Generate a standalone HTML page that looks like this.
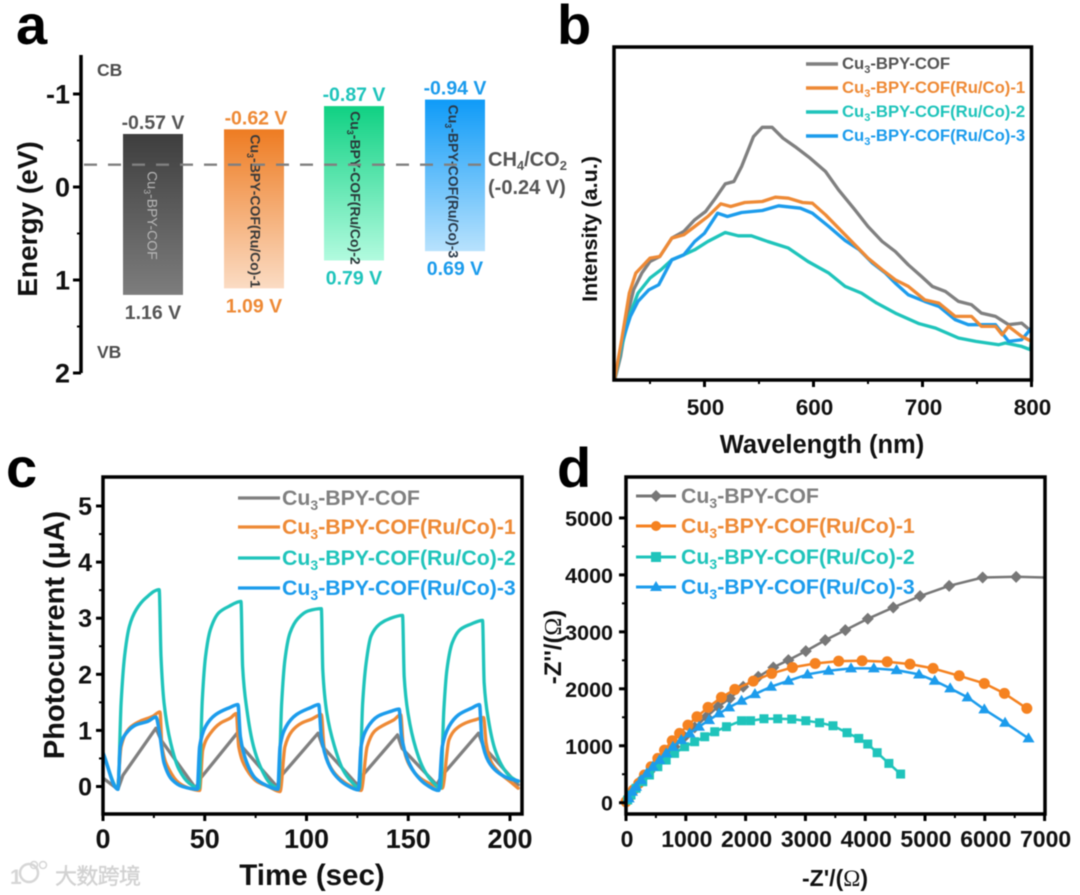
<!DOCTYPE html>
<html lang="en">
<head>
<meta charset="utf-8">
<title>Cu3-BPY-COF characterization figure</title>
<style>
html,body{margin:0;padding:0;background:#fff;}
#fig{display:block;width:1080px;height:895px;filter:blur(0.45px);}
text{font-family:"Liberation Sans","Noto Sans CJK SC",sans-serif;font-weight:bold;}
</style>
</head>
<body>
<svg id="fig" xmlns="http://www.w3.org/2000/svg" width="1080" height="895" viewBox="0 0 1080 895">
<defs>
<linearGradient id="g0" x1="0" y1="0" x2="0" y2="1"><stop offset="0" stop-color="#3e3e3e"/><stop offset="1" stop-color="#7d7d7d"/></linearGradient>
<linearGradient id="g1" x1="0" y1="0" x2="0" y2="1"><stop offset="0" stop-color="#ee7c22"/><stop offset="1" stop-color="#fbdcc4"/></linearGradient>
<linearGradient id="g2" x1="0" y1="0" x2="0" y2="1"><stop offset="0" stop-color="#10d183"/><stop offset="1" stop-color="#b2fbdf"/></linearGradient>
<linearGradient id="g3" x1="0" y1="0" x2="0" y2="1"><stop offset="0" stop-color="#0f9bf8"/><stop offset="1" stop-color="#b8e2fd"/></linearGradient>
</defs>
<rect width="1080" height="895" fill="#fff"/>

<text x="16" y="44" font-size="56" fill="#000">a</text>
<text x="557" y="44" font-size="56" fill="#000">b</text>
<text x="6" y="487" font-size="56" fill="#000">c</text>
<text x="557" y="487" font-size="56" fill="#000">d</text>

<g id="panelA">
  <text transform="translate(37,219) rotate(-90)" text-anchor="middle" font-size="28" fill="#111">Energy (eV)</text>
  <text x="97" y="76" font-size="17.5" fill="#4d4d4d">CB</text>
  <text x="97" y="358" font-size="17.5" fill="#4d4d4d">VB</text>
  <text x="488" y="166" font-size="20" fill="#555">CH<tspan dy="4" font-size="13">4</tspan><tspan dy="-4">/CO</tspan><tspan dy="4" font-size="13">2</tspan></text>
  <text x="488" y="194" font-size="20" fill="#555">(-0.24 V)</text>
</g>

<g id="panelB">
  <text transform="translate(597,229) rotate(-90)" text-anchor="middle" font-size="21.5" fill="#111">Intensity (a.u.)</text>
  <text x="822" y="453" text-anchor="middle" font-size="25.5" fill="#111">Wavelength (nm)</text>
  <g font-size="16.7">
    <line x1="806" y1="64" x2="838" y2="64" stroke="#808080" stroke-width="3.5"/>
    <text x="842" y="69" fill="#555">Cu<tspan dy="4" font-size="11">3</tspan><tspan dy="-4">-BPY-COF</tspan></text>
    <line x1="806" y1="88" x2="838" y2="88" stroke="#ee8a36" stroke-width="3.5"/>
    <text x="842" y="93" fill="#ee8a36">Cu<tspan dy="4" font-size="11">3</tspan><tspan dy="-4">-BPY-COF(Ru/Co)-1</tspan></text>
    <line x1="806" y1="112" x2="838" y2="112" stroke="#1fc4bb" stroke-width="3.5"/>
    <text x="842" y="117" fill="#1fc4bb">Cu<tspan dy="4" font-size="11">3</tspan><tspan dy="-4">-BPY-COF(Ru/Co)-2</tspan></text>
    <line x1="806" y1="136" x2="838" y2="136" stroke="#1c9cec" stroke-width="3.5"/>
    <text x="842" y="141" fill="#1c9cec">Cu<tspan dy="4" font-size="11">3</tspan><tspan dy="-4">-BPY-COF(Ru/Co)-3</tspan></text>
  </g>
</g>

<g id="panelC">
  <text transform="translate(64,635) rotate(-90)" text-anchor="middle" font-size="29" fill="#111">Photocurrent (μA)</text>
  <text x="312" y="885" text-anchor="middle" font-size="29.5" fill="#111">Time (sec)</text>
</g>

<g id="panelD">
  <text transform="translate(561,647) rotate(-90)" text-anchor="middle" font-size="24" fill="#111">-Z''/(<tspan style="font-family:'Liberation Serif',serif;font-weight:normal">Ω</tspan>)</text>
  <text x="835" y="886" text-anchor="middle" font-size="23" fill="#111">-Z'/(<tspan style="font-family:'Liberation Serif',serif;font-weight:normal">Ω</tspan>)</text>
</g>

<g>
  <text x="10" y="884" font-size="21" fill="#d6d6d6">1</text>
  <circle cx="29" cy="873" r="9" fill="none" stroke="#d6d6d6" stroke-width="2.5"/>
  <circle cx="34" cy="865" r="3.5" fill="none" stroke="#d6d6d6" stroke-width="1.5"/>
  <circle cx="43" cy="865" r="3.5" fill="none" stroke="#d6d6d6" stroke-width="1.5"/>
  <text x="55" y="884" font-size="22" fill="#d2d2d2" stroke="#d2d2d2" stroke-width="0.4" textLength="86" style="font-weight:normal">大数跨境</text>
</g>
</svg>

<script>
// ===== Panel a data =====
var bandNames = ['Cu3-BPY-COF','Cu3-BPY-COF(Ru/Co)-1','Cu3-BPY-COF(Ru/Co)-2','Cu3-BPY-COF(Ru/Co)-3'];
var bandCB = [-0.57,-0.62,-0.87,-0.94];
var bandVB = [1.16,1.09,0.79,0.69];
var bandRedox = -0.24;
var bandTicks = [-1,0,1,2];

// ===== Panel b data =====
var plTicks = [500,600,700,800];
var wlGray = [417,423,429,435,442.5,450,459,470,481,491,501,510,519,527,534,545,553,562,572,583,597,611,623,638,650,663,675,687,699,709,721,733,745,754,767,779,791,800];
var plGray = [0,8,20,28,33,36.5,38,43.5,45.5,49,51.5,55.5,59.8,60.5,65,74,76.8,76.8,73.5,71,67.5,63.5,58,52,47,42.5,39.5,35.5,32,29,27.5,24.5,23.5,21,20,17.5,18,15.5];
var wlOrange = [417,424,431,437,450,459,470,481,491,503,515,524,537,553,565,577,590,599,611,623,638,650,663,675,687,702,715,730,745,754,767,773,779,791,800];
var plOrange = [0,13,27,33,37.5,38,43.5,44.5,47,50,53.8,53,54.2,54.5,55.8,55.5,54.2,54,50.5,46.5,41.5,37.5,34,31,29,25,24,20,20,17,17,14.5,17,14,12.5];
var wlTeal = [417,424,432,439,450,460,470,481,491,503,519,531,543,558,577,595,614,629,644,658,675,697,712,733,749,770,776,791,799,800];
var plTeal = [0,11,21,27,31.5,34,37,38.5,40,42.5,45.2,44.2,44.2,42.5,40.5,36.5,33,29,27,24,21,17.8,16.5,13.5,12.5,11.5,12,11,10,12.5];
var wlBlue = [417,424,432,439,449,458,470,481,491,500,512,521,534,553,568,588,599,614,629,642,654,666,675,687,702,715,730,742,767,779,791,800];
var plBlue = [0,12,20,24.5,28,29.5,37,38.5,42.5,45,51,50,51.2,51.8,53.2,52.5,51,47,42.8,40,36,33,30,26.5,24.5,23,19,17.5,17.5,12.5,13,16.5];

// ===== Panel c data =====
var timeTicks = [0,50,100,150,200];
var currentTicks = [0,1,2,3,4,5];
var tGray = [0,7.3,9.8,26,28.5,45.5,48,65.9,68.3,85.4,87.8,105.7,108,125,127.6,144.7,147,164,166.7,184.5,187,204];
var iGray = [0.15,-0.05,0.2,1.04,0.83,-0.03,0.15,0.95,0.71,0,0.2,0.95,0.71,0.03,0.2,0.92,0.68,0.03,0.2,0.95,0.71,0.03];
var tOrange = [7.3,8.9,13,18,24.4,28,29,32.5,37.4,42.3,47.5,49,52.8,57.7,62.6,65.5,66.7,70.7,75.6,81.3,87,89.4,92.7,97.6,102.4,107.3,108.6,112,117,122,126.8,129.8,133.3,138.2,143,146.3,147.6,152,157,164,166.7,170,173,178,183,187,188.3,191,195,200,204];
var iOrange = [-0.03,0.71,1.04,1.16,1.25,1.33,0.71,0.3,0.06,-0.03,-0.07,0.65,0.95,1.13,1.22,1.3,0.71,0.3,0.09,0,-0.09,0.71,0.98,1.13,1.2,1.28,0.71,0.33,0.12,0,-0.07,0.71,0.98,1.1,1.19,1.28,0.71,0.3,0.12,0,-0.03,0.83,1.01,1.13,1.19,1.23,0.77,0.42,0.24,0.09,-0.03];
var tTeal = [0,7.3,8.9,10.6,13,16.3,21,27.6,28.5,30,33.3,37.4,42.3,47.2,48.8,50.4,52.8,57,61.8,67.8,68.6,70.7,74,78,82,86.2,87.8,89.4,91.9,95.9,100.8,107.3,108,110,113.8,117.9,122,126,127.6,129.3,131.7,135.8,140.7,147.2,148,150,153.7,157.7,161.8,165.9,167.5,169,171.6,175.6,180.5,186.5,187.3,189.4,192.7,196.7,200,204];
var iTeal = [0.6,-0.03,1.49,2.32,2.86,3.15,3.36,3.51,2.32,1.49,0.77,0.3,0.06,-0.03,1.55,2.32,2.8,3.1,3.21,3.3,2.14,1.37,0.71,0.3,0.06,-0.03,1.49,2.26,2.74,3.0,3.13,3.17,2.08,1.31,0.71,0.3,0.09,-0.03,1.49,2.2,2.68,2.89,2.99,3.05,1.96,1.28,0.68,0.3,0.09,-0.03,1.37,2.08,2.56,2.8,2.89,2.96,1.85,1.19,0.65,0.33,0.18,0.09];
var tBlue = [0,7.3,8.5,11.4,16.3,22,26,27.6,30,34,39,46.3,47.5,50.4,55.3,61.8,66.3,67.5,70.7,74.8,79.7,85.9,87,90,95,101.6,106,107.3,110.6,114.6,119.5,125.5,126.8,129.8,135,141.5,145.5,146.7,150,154.5,159,165,166.7,170,174.8,181.3,185,186.2,189.4,193.5,199,204];
var iBlue = [0.6,-0.05,0.71,0.95,1.1,1.16,1.24,1.0,0.42,0.12,0,-0.05,0.71,1.07,1.28,1.4,1.46,0.89,0.42,0.15,0.03,-0.05,0.71,1.07,1.28,1.4,1.46,0.89,0.42,0.18,0.03,-0.06,0.71,1.04,1.25,1.34,1.38,0.89,0.45,0.18,0.03,-0.07,0.71,1.07,1.28,1.4,1.46,0.83,0.45,0.27,0.15,0.1];

// ===== Panel d data =====
var zRealTicks = [0,1000,2000,3000,4000,5000,6000,7000];
var zImagTicks = [0,1000,2000,3000,4000,5000];
var zrGray = [6524,5964,5404,4917,4469,4043,3668,3332,3007,2716,2464,2212,1960,1736,1540,1344,1148,980,812,672,532,392,280,168,84,28];
var ziGray = [3966,3955,3808,3627,3428,3229,3030,2855,2662,2504,2375,2211,2036,1831,1685,1509,1322,1158,983,830,690,544,427,281,164,76];
var zrGrayTail = [7000];
var ziGrayTail = [3955];
var zrOrange = [6703,6328,5992,5572,5135,4749,4368,3948,3556,3164,2783,2436,2128,1820,1596,1372,1187,1036,896,773,644,532,420,308,213,123,56,0];
var ziOrange = [1656,1919,2094,2229,2358,2434,2475,2492,2486,2445,2375,2270,2135,1989,1849,1673,1509,1363,1217,1088,924,778,632,486,339,222,105,18];
var zrTeal = [4592,4396,4200,4043,3892,3696,3461,3237,3007,2772,2537,2307,2083,1932,1680,1484,1316,1148,980,812,672,532,392,280,168,84,28];
var ziTeal = [503,690,878,1030,1129,1229,1351,1404,1439,1468,1474,1474,1439,1439,1334,1246,1158,1071,983,866,749,632,486,369,252,135,47];
var zrBlue = [6731,6339,5992,5712,5421,5163,4900,4525,4144,3763,3388,3035,2716,2425,2156,1932,1725,1557,1389,1221,1064,924,784,672,560,448,347,252,168,101,45];
var ziBlue = [1129,1404,1638,1849,2007,2141,2252,2328,2358,2358,2317,2252,2141,2036,1907,1790,1673,1568,1451,1334,1217,1100,983,866,749,632,515,398,281,193,76];

var GRAY='#808080', ORANGE='#ee8a36', TEAL='#1fc4bb', BLUE='#1c9cec';
var NS='http://www.w3.org/2000/svg';
function mk(tag,parent,attrs,txt){
  var e=document.createElementNS(NS,tag);
  for(var k in attrs){e.setAttribute(k,attrs[k]);}
  if(txt!==undefined){e.textContent=txt;}
  parent.appendChild(e);
  return e;
}
function pts(xs,ys,fx,fy){
  return xs.map(function(x,i){return fx(x).toFixed(1)+','+fy(ys[i]).toFixed(1);}).join(' ');
}
function seriesLine(parent,xs,ys,fx,fy,color,w,name){
  var p=mk('polyline',parent,{points:pts(xs,ys,fx,fy),fill:'none',stroke:color,'stroke-width':w,'stroke-linejoin':'round','stroke-linecap':'round'});
  
  
  return p;
}
// Monotone cubic path through the data points (no overshoot at peaks and troughs).
function seriesCurve(parent,xs,ys,fx,fy,color,w,name){
  var px=xs.map(fx), py=ys.map(fy), n=px.length, sl=[], tn=[], i;
  for(i=0;i<n-1;i++){sl[i]=(py[i+1]-py[i])/(px[i+1]-px[i]);}
  tn[0]=sl[0]; tn[n-1]=sl[n-2];
  for(i=1;i<n-1;i++){
    if(sl[i-1]*sl[i]<=0){tn[i]=0;}
    else{var h0=px[i]-px[i-1],h1=px[i+1]-px[i];tn[i]=3*(h0+h1)/((2*h1+h0)/sl[i-1]+(h1+2*h0)/sl[i]);}
  }
  var d='M'+px[0].toFixed(1)+' '+py[0].toFixed(1);
  for(i=0;i<n-1;i++){
    var h=(px[i+1]-px[i])/3;
    d+='C'+(px[i]+h).toFixed(2)+' '+(py[i]+h*tn[i]).toFixed(2)+' '+(px[i+1]-h).toFixed(2)+' '+(py[i+1]-h*tn[i+1]).toFixed(2)+' '+px[i+1].toFixed(2)+' '+py[i+1].toFixed(2);
  }
  var p=mk('path',parent,{d:d,fill:'none',stroke:color,'stroke-width':w,'stroke-linejoin':'round','stroke-linecap':'round'});
  
  
  return p;
}
function tick(parent,x1,y1,x2,y2,w,name){
  var t=mk('line',parent,{x1:x1,y1:y1,x2:x2,y2:y2,stroke:'#000','stroke-width':w});
  
  
}
function label(parent,x,y,str,size,anchor,name,fill){
  var t=mk('text',parent,{x:x,y:y,'font-size':size,'text-anchor':anchor,fill:fill||'#111'},str);
  
  
  return t;
}
function frame(parent,x,y,w,h,name){
  var r=mk('rect',parent,{x:x,y:y,width:w,height:h,fill:'none',stroke:'#000','stroke-width':3.5});
  
  
}

// ----- Panel a -----
(function(){
  var g=document.getElementById('panelA');
  var yA=function(v){return 187+93*v;};
  var barLeft=[123,224,324,425], barW=60;
  var colors=['#555555','#ee8a36','#1fc4bb','#1c9cec'];
  var vbColors=['#555555','#ee8a36','#1fc4bb','#1c9cec'];
  var textColors=['#b5b5b5','#3a3a3a','#2a3a3a','#2a3a4a'];
  var textWeights=['normal','bold','bold','bold'];
  var axis=mk('line',g,{x1:81,y1:55,x2:81,y2:373,stroke:'#000','stroke-width':3.5});
  
  
  bandTicks.forEach(function(v){
    tick(g,73,yA(v),81,yA(v),3,'energy-tick');
    label(g,70,yA(v)+9.5,String(v),27,'end','energy-tick-label','#111');
  });
  [-0.5,0.5,1.5].forEach(function(v){tick(g,77,yA(v),81,yA(v),2,'energy-minor-tick');});
  bandCB.forEach(function(cb,i){
    var vb=bandVB[i];
    var r=mk('rect',g,{x:barLeft[i],y:yA(cb),width:barW,height:yA(vb)-yA(cb),fill:'url(#g'+i+')'});
    
    
    var cx=barLeft[i]+barW/2;
    label(g,cx+(i===1?2:0),yA(cb)-5,cb.toFixed(2)+' V',19.5,'middle','cb-value',colors[i]);
    label(g,cx,yA(vb)+24,vb.toFixed(2)+' V',19.5,'middle','vb-value',vbColors[i]);
    var tx=i===0?cx-1:cx+(i===3?-2:1);
    var name=bandNames[i];
    var ty=i===0?(yA(cb)+yA(vb))/2+1:yA(cb)+5;
    var t=mk('text',g,{transform:'translate('+(tx-4.5)+','+ty+') rotate(90)','font-size':14,'text-anchor':i===0?'middle':'start',fill:textColors[i],style:'font-weight:'+textWeights[i]});
    
    
    mk('tspan',t,{},'Cu');
    mk('tspan',t,{dy:3.5,'font-size':9},'3');
    mk('tspan',t,{dy:-3.5},name.slice(3));
  });
  var d=mk('line',g,{x1:84,y1:yA(bandRedox),x2:482,y2:yA(bandRedox),stroke:'#808080','stroke-width':2.4,'stroke-dasharray':'13 11'});
  
  
})();

// ----- Panel b -----
(function(){
  var g=document.getElementById('panelB');
  var xB=function(w){return 1031.5+(w-800)*1.09;};
  var yB=function(v){return 383-v*3.33;};
  var clip=mk('clipPath',g,{id:'clipB'});
  mk('rect',clip,{x:614,y:47,width:417.5,height:333});
  var s=mk('g',g,{'clip-path':'url(#clipB)'});
  seriesLine(s,wlGray,plGray,xB,yB,GRAY,3.3,'series-gray-cof');
  seriesLine(s,wlTeal,plTeal,xB,yB,TEAL,3.3,'series-teal-2');
  seriesLine(s,wlBlue,plBlue,xB,yB,BLUE,3.3,'series-blue-3');
  seriesLine(s,wlOrange,plOrange,xB,yB,ORANGE,3.3,'series-orange-1');
  frame(g,614,47,417.5,333,'plot-frame-b');
  plTicks.forEach(function(v){
    tick(g,xB(v),380,xB(v),387,3,'wavelength-tick');
    label(g,xB(v)+1,415,String(v),22.5,'middle','wavelength-tick-label');
  });
  [450,550,650,750].forEach(function(v){tick(g,xB(v),380,xB(v),384,2,'wavelength-minor-tick');});
})();

// ----- Panel c -----
(function(){
  var g=document.getElementById('panelC');
  var xC=function(t){return 103+t*2.035;};
  var yC=function(v){return 786.5-v*56.1;};
  var clip=mk('clipPath',g,{id:'clipC'});
  mk('rect',clip,{x:103,y:477,width:419,height:337});
  var s=mk('g',g,{'clip-path':'url(#clipC)'});
  seriesLine(s,tGray,iGray,xC,yC,GRAY,3.3,'series-gray-cof');
  seriesCurve(s,tOrange,iOrange,xC,yC,ORANGE,3.3,'series-orange-1');
  seriesCurve(s,tTeal,iTeal,xC,yC,TEAL,3.3,'series-teal-2');
  seriesCurve(s,tBlue,iBlue,xC,yC,BLUE,3.5,'series-blue-3');
  frame(g,103,477,419,337,'plot-frame-c');
  timeTicks.forEach(function(v){
    tick(g,xC(v),814,xC(v),821,3,'time-tick');
    label(g,xC(v),848,String(v),27,'middle','time-tick-label');
  });
  [25,75,125,175].forEach(function(v){tick(g,xC(v),814,xC(v),818,2,'time-minor-tick');});
  currentTicks.forEach(function(v){
    tick(g,96,yC(v),103,yC(v),3,'current-tick');
    label(g,92,yC(v)+9,String(v),25,'end','current-tick-label');
  });
  [0.5,1.5,2.5,3.5,4.5].forEach(function(v){tick(g,99,yC(v),103,yC(v),2,'current-minor-tick');});
  var lx=[238,280], ly=[498,527,558,588];
  var names=['-BPY-COF','-BPY-COF(Ru/Co)-1','-BPY-COF(Ru/Co)-2','-BPY-COF(Ru/Co)-3'];
  var cols=[GRAY,ORANGE,TEAL,BLUE];
  var textCols=['#808080',ORANGE,TEAL,BLUE];
  ly.forEach(function(y,i){
    var l=mk('line',g,{x1:lx[0],y1:y,x2:lx[1],y2:y,stroke:cols[i],'stroke-width':3.2});
    
    
    var t=mk('text',g,{x:282,y:y+7,'font-size':21.3,fill:textCols[i]});
    
    
    mk('tspan',t,{},'Cu');
    mk('tspan',t,{dy:5,'font-size':14},'3');
    mk('tspan',t,{dy:-5},names[i]);
  });
})();

// ----- Panel d -----
(function(){
  var g=document.getElementById('panelD');
  var xD=function(v){return 626+v*0.0598;};
  var yD=function(v){return 802.7-v*0.05695;};
  var clip=mk('clipPath',g,{id:'clipD'});
  mk('rect',clip,{x:618,y:477,width:427,height:337});
  var s=mk('g',g,{'clip-path':'url(#clipD)'});
  function marker(parent,kind,cx,cy,color,sz,name){
    var e;
    if(kind==='diamond'){e=mk('polygon',parent,{points:(cx-sz)+','+cy+' '+cx+','+(cy-sz)+' '+(cx+sz)+','+cy+' '+cx+','+(cy+sz),fill:color});}
    if(kind==='circle'){e=mk('circle',parent,{cx:cx,cy:cy,r:sz,fill:color});}
    if(kind==='square'){e=mk('rect',parent,{x:cx-sz,y:cy-sz,width:2*sz,height:2*sz,fill:color});}
    if(kind==='triangle'){e=mk('polygon',parent,{points:cx+','+(cy-sz-1)+' '+(cx+sz+1)+','+(cy+sz-1)+' '+(cx-sz-1)+','+(cy+sz-1),fill:color});}
    
    
  }
  function series(xs,ys,kind,color,sz,name,tailX,tailY){
    var ax=tailX?tailX.concat(xs):xs, ay=tailY?tailY.concat(ys):ys;
    seriesLine(s,ax,ay,xD,yD,color,2.5,name+'-line');
    xs.forEach(function(x,i){marker(s,kind,xD(x),yD(ys[i]),color,sz,name+'-point');});
  }
  series(zrGray,ziGray,'diamond','#777',6,'series-gray-cof',zrGrayTail,ziGrayTail);
  series(zrOrange,ziOrange,'circle','#f58220',5.5,'series-orange-1');
  series(zrTeal,ziTeal,'square','#1fc4bb',4.5,'series-teal-2');
  series(zrBlue,ziBlue,'triangle','#1c9cec',5,'series-blue-3');
  frame(g,626,477,419,337,'plot-frame-d');
  zRealTicks.forEach(function(v){
    tick(g,xD(v),814,xD(v),821,3,'z-real-tick');
    label(g,xD(v)+1,847,String(v),23,'middle','z-real-tick-label');
  });
  [500,1500,2500,3500,4500,5500,6500].forEach(function(v){tick(g,xD(v),814,xD(v),818,2,'z-real-minor-tick');});
  zImagTicks.forEach(function(v){
    tick(g,619,yD(v),626,yD(v),3,'z-imag-tick');
    label(g,613,yD(v)+8,String(v),21.5,'end','z-imag-tick-label');
  });
  [500,1500,2500,3500,4500].forEach(function(v){tick(g,622,yD(v),626,yD(v),2,'z-imag-minor-tick');});
  var ly=[496,526,557,587];
  var names=['-BPY-COF','-BPY-COF(Ru/Co)-1','-BPY-COF(Ru/Co)-2','-BPY-COF(Ru/Co)-3'];
  var cols=['#777','#f58220','#1fc4bb','#1c9cec'];
  var textCols=['#808080',ORANGE,TEAL,BLUE];
  var kinds=['diamond','circle','square','triangle'];
  ly.forEach(function(y,i){
    var l=mk('line',g,{x1:636,y1:y,x2:676,y2:y,stroke:cols[i],'stroke-width':3});
    
    
    marker(g,kinds[i],656,y,cols[i],i===0?6:5,'legend-marker-d');
    var t=mk('text',g,{x:681,y:y+7,'font-size':21.3,fill:textCols[i]});
    
    
    mk('tspan',t,{},'Cu');
    mk('tspan',t,{dy:5,'font-size':14},'3');
    mk('tspan',t,{dy:-5},names[i]);
  });
})();
</script>
</body>
</html>
